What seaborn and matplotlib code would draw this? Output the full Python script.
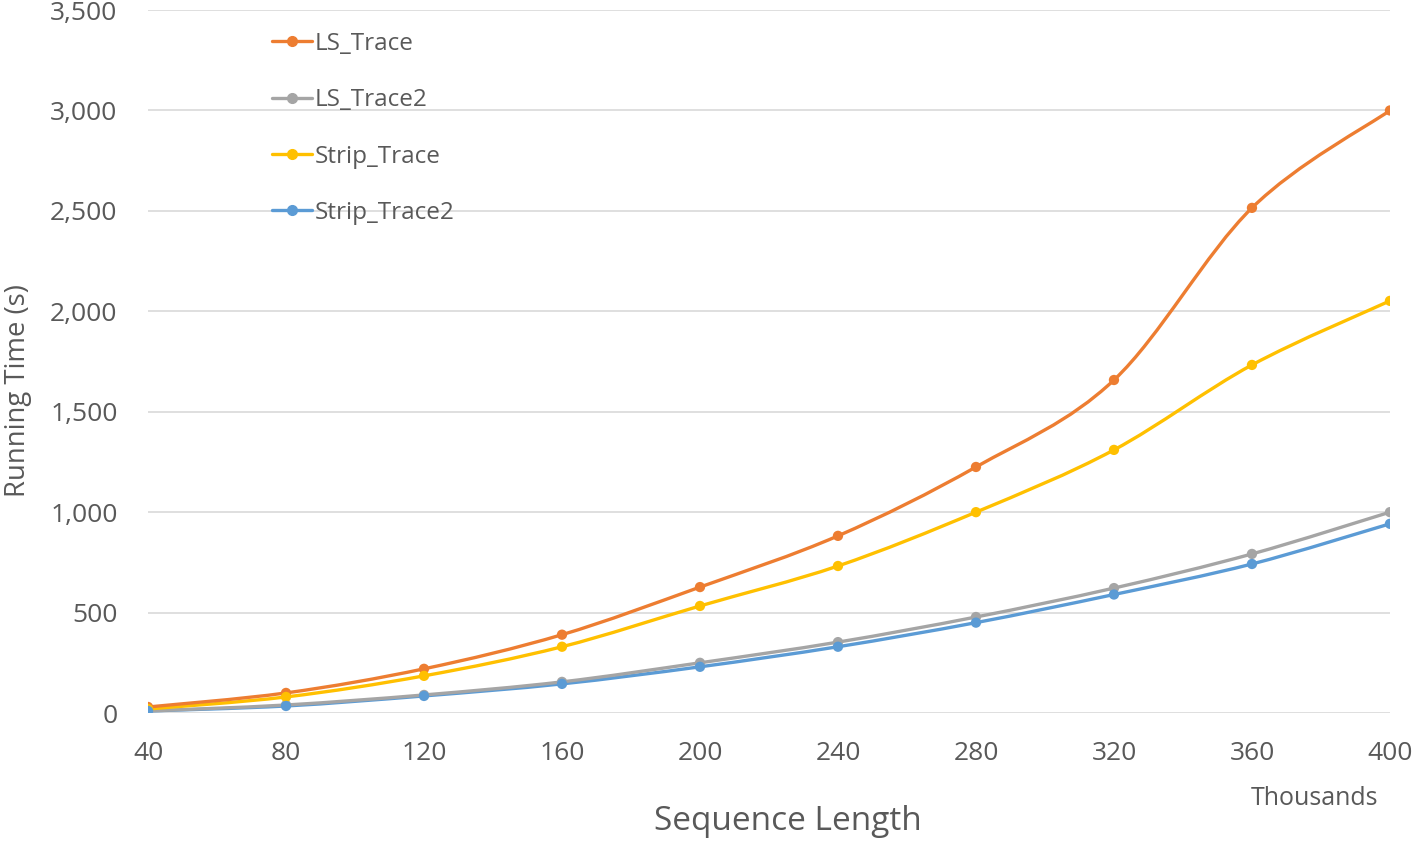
import numpy as np
import pandas as pd
import matplotlib
matplotlib.use("Agg")
import matplotlib.pyplot as plt
import seaborn as sns
from matplotlib.path import Path
from matplotlib.patches import PathPatch
from matplotlib.lines import Line2D

# data (sequence length in thousands, running time in seconds)
seq_len = [40, 80, 120, 160, 200, 240, 280, 320, 360, 400]
ls_trace = [30, 100, 220, 390, 627, 882, 1225, 1658, 2515, 3000]
ls_trace2 = [10, 40, 90, 155, 250, 353, 478, 622, 792, 1000]
strip_trace = [20, 80, 185, 330, 533, 732, 1000, 1310, 1733, 2052]
strip_trace2 = [10, 35, 85, 145, 230, 330, 450, 590, 742, 942]

series = ["LS_Trace", "LS_Trace2", "Strip_Trace", "Strip_Trace2"]
colors = {"LS_Trace": "#ED7D31", "LS_Trace2": "#A5A5A5",
          "Strip_Trace": "#FFC000", "Strip_Trace2": "#5B9BD5"}

df = pd.DataFrame({"Sequence Length": seq_len, "LS_Trace": ls_trace,
                   "LS_Trace2": ls_trace2, "Strip_Trace": strip_trace,
                   "Strip_Trace2": strip_trace2})
long_df = df.melt(id_vars="Sequence Length", var_name="Series", value_name="Time")

sns.set_theme(style="white")
plt.rcParams["font.family"] = ["Open Sans", "DejaVu Sans"]
txt = "#595959"


def smooth_path(x, y):
    # Excel-style smoothed line: cubic Bezier through the points
    pts = np.column_stack([x, y]).astype(float)
    ext = np.vstack([pts[0], pts, pts[-1]])
    verts = [pts[0]]
    codes = [Path.MOVETO]
    for i in range(len(pts) - 1):
        p0, p1, p2, p3 = ext[i], ext[i + 1], ext[i + 2], ext[i + 3]
        verts += [p1 + (p2 - p0) / 6, p2 - (p3 - p1) / 6, p2]
        codes += [Path.CURVE4] * 3
    return Path(verts, codes)


fig = plt.figure(figsize=(14.15, 8.43), dpi=100)
ax = fig.add_axes([0.1046, 0.1542, 0.8777, 0.8339])

# draw order: blue under gray under yellow under orange as in the reference
for name in ["Strip_Trace2", "LS_Trace2", "Strip_Trace", "LS_Trace"]:
    ax.add_patch(PathPatch(smooth_path(df["Sequence Length"], df[name]),
                           facecolor="none", edgecolor=colors[name], lw=2.4,
                           capstyle="round", zorder=3))

sns.scatterplot(data=long_df, x="Sequence Length", y="Time", hue="Series",
                hue_order=series, palette=colors, s=55, edgecolor="none",
                legend=False, ax=ax, zorder=4)

ax.set_xlim(40, 400)
ax.set_ylim(0, 3500)
ax.set_xticks(seq_len)
ax.set_yticks(range(0, 3501, 500))
ax.set_yticklabels([f"{v:,}" for v in range(0, 3501, 500)])
ax.yaxis.grid(True, color="#D9D9D9", lw=1.2)
ax.xaxis.grid(False)
for s in ax.spines.values():
    s.set_visible(False)
ax.tick_params(axis="both", length=0, labelsize=19, labelcolor=txt)
ax.tick_params(axis="x", pad=20)
ax.tick_params(axis="y", pad=22)

ax.set_xlabel("Sequence Length", fontsize=24, color=txt, va="center", ha="center")
ax.set_ylabel("Running Time (s)", fontsize=19.8, color=txt, va="center", ha="center")
ax.xaxis.set_label_coords(0.515, -0.155)
ax.yaxis.set_label_coords(-0.105, 0.459)
fig.text(0.929, 0.053, "Thousands", fontsize=18, color=txt, ha="center", va="center")

handles = [Line2D([], [], color=colors[n], lw=2.4, marker="o", markersize=7)
           for n in series]
ax.legend(handles, series, loc="upper left", bbox_to_anchor=(0.082, 1.0),
          frameon=False, fontsize=17.5, labelspacing=1.33, handlelength=1.65,
          handletextpad=0.1, labelcolor=txt)

fig.savefig("out.png", dpi=100)
